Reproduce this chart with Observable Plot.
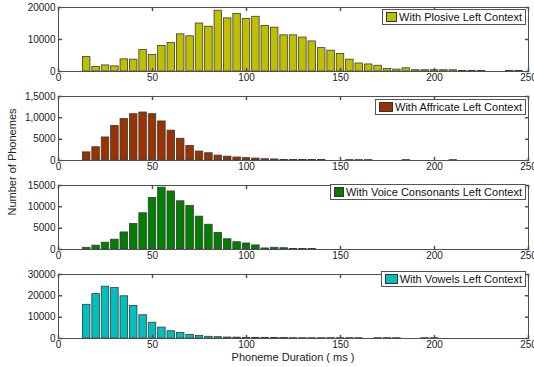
<!DOCTYPE html>
<html>
<head>
<meta charset="utf-8">
<script src="https://cdn.jsdelivr.net/npm/d3@7"></script>
<script src="https://cdn.jsdelivr.net/npm/@observablehq/plot@0.6"></script>
<style>
  body { margin: 0; background: #fff; }
  #wrap { position: relative; width: 534px; height: 367px; font-family: "Liberation Sans", Arial, sans-serif; }
  #wrap svg { display: block; }
  .legend { position: absolute; background: #fff; border: 1px solid #555; height: 16px; display: flex; align-items: center; font-size: 11px; color: #111; padding-right: 3px; box-sizing: border-box; white-space: nowrap; }
  .legend .patch { width: 18px; height: 10px; border: 1px solid #333; margin: 0 2px 0 3px; box-sizing: border-box; }
  .ytitle { position: absolute; left: 12px; top: 162px; transform: translate(-50%, -50%) rotate(-90deg); font-size: 11px; color: #222; white-space: nowrap; }
  .xtitle { position: absolute; left: 293px; top: 357px; transform: translate(-50%, -50%); font-size: 11px; line-height: 12px; color: #222; white-space: nowrap; }
</style>
</head>
<body>
<div id="wrap"></div>
<script>
// Bin centres (ms), 5 ms bins
const durations = [15,20,25,30,35,40,45,50,55,60,65,70,75,80,85,90,95,100,105,110,115,120,125,130,135,140,145,150,155,160,165,170,175,180,185,190,195,200,205,210,215,220,225,230,235,240,245];

const plosiveCounts = [4500,1400,1900,1600,3800,3700,6700,5200,8000,8900,11600,11000,15000,14000,19000,16600,18000,16400,17100,14200,13700,11300,11300,10600,9400,7300,6500,5500,3700,2500,2200,1800,800,600,1000,400,400,400,400,400,200,200,200,0,0,200,200];
const affricateCounts = [1900,3100,5400,8100,9700,10850,11250,10850,9150,7000,5100,3400,2100,1700,1150,900,700,550,450,300,250,100,100,100,100,100,0,0,80,80,80,0,0,0,80,0,0,0,0,80,0,0,0,0,0,0,0];
const voiceCounts = [400,900,1600,2300,4000,6000,8500,12100,14500,13600,11300,10200,7700,5800,3900,2400,1700,1400,950,250,400,300,100,100,100,0,0,0,0,0,0,0,0,0,0,0,0,0,0,0,0,0,0,0,0,0,0];
const vowelCounts = [15800,20800,24300,23700,19800,15200,10900,7400,5100,3400,2600,1700,1200,800,600,450,400,300,300,250,200,200,150,150,150,150,150,150,150,150,0,150,150,150,0,0,150,150,0,0,0,0,0,0,0,0,0];

const seriesNames = ["With Plosive Left Context","With Affricate Left Context","With Voice Consonants Left Context","With Vowels Left Context"];
const seriesColors = ["#bfbf00","#993300","#007f00","#00bfbf"];
const seriesCounts = [plosiveCounts, affricateCounts, voiceCounts, vowelCounts];
const yMax = [20000, 15000, 15000, 30000];
const yTickValues = [[0,10000,20000],[0,5000,10000,15000],[0,5000,10000,15000],[0,10000,20000,30000]];
const yTickLabels = [["0","10000","20000"],["0","5000","1,0000","1,5000"],["0","5000","10000","15000"],["0","10000","20000","30000"]];
const xTickValues = [0,50,100,150,200,250];
const xTickLabels = ["0","50","100","150","200","250"];
const xTitle = "Phoneme Duration ( ms )";
const yTitle = "Number of Phonemes";

// legend placement (px within each panel)
const legendPos = [{top: 9, left: 382, w: 144},{top: 10, left: 375, w: 151},{top: 6, left: 330, w: 196},{top: 4, left: 381, w: 145}];

const wrap = document.getElementById("wrap");
const tickShape = {draw(context, l) { context.moveTo(0, 0); context.lineTo(0, -l); }};
const frameColor = "#505050";

seriesCounts.forEach((counts, i) => {
  const data = durations.map((d, j) => ({ms: d, n: counts[j]}));
  const xLab = new Map(xTickValues.map((v, k) => [v, xTickLabels[k]]));
  const yLab = new Map(yTickValues[i].map((v, k) => [v, yTickLabels[i][k]]));
  const plot = Plot.plot({
    width: 534, height: 89,
    marginTop: 7, marginBottom: 18, marginLeft: 58, marginRight: 6,
    style: {fontFamily: "'Liberation Sans', Arial, sans-serif", fontSize: "10px", color: "#222", background: "transparent", overflow: "visible"},
    x: {domain: [0, 250]},
    y: {domain: [0, yMax[i]]},
    marks: [
      Plot.rect(data.filter(d => d.n > 0), {x1: d => d.ms - 2, x2: d => d.ms + 2, y1: 0, y2: "n", fill: seriesColors[i], stroke: "#3a3a3a", strokeWidth: 0.8}),
      Plot.frame({stroke: frameColor, strokeWidth: 1}),
      Plot.axisX({ticks: xTickValues, tickSize: 0, tickPadding: 2, tickFormat: d => xLab.get(d), label: null}),
      Plot.axisY({ticks: yTickValues[i], tickSize: 0, tickPadding: 3, tickFormat: d => yLab.get(d), label: null}),
      Plot.vector(xTickValues, {x: d => d, frameAnchor: "bottom", length: 3, rotate: 0, anchor: "start", shape: tickShape, stroke: frameColor}),
      Plot.vector(xTickValues, {x: d => d, frameAnchor: "top", length: 3, rotate: 180, anchor: "start", shape: tickShape, stroke: frameColor}),
      Plot.vector(yTickValues[i], {y: d => d, frameAnchor: "left", length: 3, rotate: 90, anchor: "start", shape: tickShape, stroke: frameColor}),
      Plot.vector(yTickValues[i], {y: d => d, frameAnchor: "right", length: 3, rotate: -90, anchor: "start", shape: tickShape, stroke: frameColor})
    ]
  });
  wrap.appendChild(plot);
  const lg = document.createElement("div");
  lg.className = "legend";
  lg.style.top = (i * 89 + legendPos[i].top) + "px";
  lg.style.left = legendPos[i].left + "px";
  lg.style.width = legendPos[i].w + "px";
  const patch = document.createElement("span");
  patch.className = "patch";
  patch.style.background = seriesColors[i];
  const txt = document.createElement("span");
  txt.textContent = seriesNames[i];
  lg.appendChild(patch);
  lg.appendChild(txt);
  wrap.appendChild(lg);
});

const yt = document.createElement("div");
yt.className = "ytitle";
yt.textContent = yTitle;
wrap.appendChild(yt);
const xt = document.createElement("div");
xt.className = "xtitle";
xt.textContent = xTitle;
wrap.appendChild(xt);
</script>
</body>
</html>
